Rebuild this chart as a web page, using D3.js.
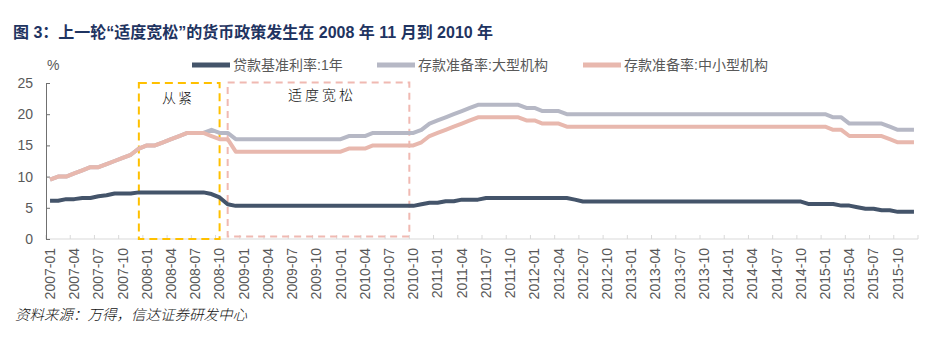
<!DOCTYPE html>
<html lang="zh">
<head>
  <meta charset="UTF-8">
  <title>上一轮“适度宽松”的货币政策</title>
  <script src="https://d3js.org/d3.v7.min.js"></script>
  <style>
    body { margin: 0; background: #fff; }
    svg { font-family: "Liberation Sans", Arial, "Noto Sans CJK SC", sans-serif; }
    .title { font-size: 16px; font-weight: bold; fill: #1f3461; }
    .legend-text { font-size: 14px; fill: #595959; }
    .tick text { font-size: 14px; fill: #595959; }
    .note { font-size: 14px; fill: #111; font-family: "Noto Sans CJK SC", sans-serif; font-weight: 300; }
    .source { font-size: 14.5px; fill: #111; font-style: italic; font-family: "Noto Sans CJK SC", sans-serif; font-weight: 300; }
  </style>
</head>
<body>
<svg id="chart"></svg>

<script>
  // years covered, monthly data
  var years = ["2007", "2008", "2009", "2010", "2011", "2012", "2013", "2014", "2015"];
  var monthNames = ["01", "02", "03", "04", "05", "06", "07", "08", "09", "10", "11", "12"];

  // 贷款基准利率:1年
  var loanRate = [
    6.12, 6.12, 6.39, 6.39, 6.57, 6.57, 6.84, 7.02, 7.29, 7.29, 7.29, 7.47,
    7.47, 7.47, 7.47, 7.47, 7.47, 7.47, 7.47, 7.47, 7.20, 6.66, 5.58, 5.31,
    5.31, 5.31, 5.31, 5.31, 5.31, 5.31, 5.31, 5.31, 5.31, 5.31, 5.31, 5.31,
    5.31, 5.31, 5.31, 5.31, 5.31, 5.31, 5.31, 5.31, 5.31, 5.31, 5.56, 5.81,
    5.81, 6.06, 6.06, 6.31, 6.31, 6.31, 6.56, 6.56, 6.56, 6.56, 6.56, 6.56,
    6.56, 6.56, 6.56, 6.56, 6.56, 6.31, 6.00, 6.00, 6.00, 6.00, 6.00, 6.00,
    6.00, 6.00, 6.00, 6.00, 6.00, 6.00, 6.00, 6.00, 6.00, 6.00, 6.00, 6.00,
    6.00, 6.00, 6.00, 6.00, 6.00, 6.00, 6.00, 6.00, 6.00, 6.00, 5.60, 5.60,
    5.60, 5.60, 5.35, 5.35, 5.10, 4.85, 4.85, 4.60, 4.60, 4.35, 4.35, 4.35
  ];

  // 存款准备率:大型机构
  var rrrLarge = [
    9.5, 10, 10, 10.5, 11, 11.5, 11.5, 12, 12.5, 13, 13.5, 14.5,
    15, 15, 15.5, 16, 16.5, 17, 17, 17, 17.5, 17, 17, 16,
    16, 16, 16, 16, 16, 16, 16, 16, 16, 16, 16, 16,
    16, 16.5, 16.5, 16.5, 17, 17, 17, 17, 17, 17, 17.5, 18.5,
    19, 19.5, 20, 20.5, 21, 21.5, 21.5, 21.5, 21.5, 21.5, 21.5, 21,
    21, 20.5, 20.5, 20.5, 20, 20, 20, 20, 20, 20, 20, 20,
    20, 20, 20, 20, 20, 20, 20, 20, 20, 20, 20, 20,
    20, 20, 20, 20, 20, 20, 20, 20, 20, 20, 20, 20,
    20, 19.5, 19.5, 18.5, 18.5, 18.5, 18.5, 18.5, 18, 17.5, 17.5, 17.5
  ];

  // 存款准备率:中小型机构
  var rrrSmall = [
    9.5, 10, 10, 10.5, 11, 11.5, 11.5, 12, 12.5, 13, 13.5, 14.5,
    15, 15, 15.5, 16, 16.5, 17, 17, 17, 16.5, 16, 16, 14,
    14, 14, 14, 14, 14, 14, 14, 14, 14, 14, 14, 14,
    14, 14.5, 14.5, 14.5, 15, 15, 15, 15, 15, 15, 15.5, 16.5,
    17, 17.5, 18, 18.5, 19, 19.5, 19.5, 19.5, 19.5, 19.5, 19.5, 19,
    19, 18.5, 18.5, 18.5, 18, 18, 18, 18, 18, 18, 18, 18,
    18, 18, 18, 18, 18, 18, 18, 18, 18, 18, 18, 18,
    18, 18, 18, 18, 18, 18, 18, 18, 18, 18, 18, 18,
    18, 17.5, 17.5, 16.5, 16.5, 16.5, 16.5, 16.5, 16, 15.5, 15.5, 15.5
  ];

  var seriesNames = ["贷款基准利率:1年", "存款准备率:大型机构", "存款准备率:中小型机构"];
  var seriesColors = ["#44546a", "#b6b8c5", "#e8b8ae"];
  var yTicks = [0, 5, 10, 15, 20, 25];
  var tickMonths = ["01", "04", "07", "10"];

  // 从紧 / 适度宽松 periods
  var periods = [
    { label: "从紧", from: "2007-12", to: "2008-10" },
    { label: "适度宽松", from: "2008-11", to: "2010-10" }
  ];

  var months = [];
  years.forEach(function(yr) {
    monthNames.forEach(function(m) { months.push(yr + "-" + m); });
  });

  var svgWidth = 937, svgHeight = 338;
  var plotLeft = 46, plotRight = 918, plotTop = 83, plotBottom = 239;

  var svg = d3.select("#chart")
          .attr("width", svgWidth)
          .attr("height", svgHeight);

  var x = d3.scaleBand().domain(months).range([plotLeft, plotRight]).padding(0);
  var y = d3.scaleLinear().domain([0, 25]).range([plotBottom, plotTop]);
  var bw = x.bandwidth();

  // title
  svg.append("text")
          .attr("class", "title")
          .attr("x", 13)
          .attr("y", 38)
          .text("图  3：上一轮“适度宽松”的货币政策发生在 2008 年 11 月到 2010 年");

  // x axis: light grey line with ticks between quarters
  var xAxis = svg.append("g").attr("transform", "translate(0," + plotBottom + ")");
  xAxis.append("line")
          .attr("x1", plotLeft).attr("x2", plotRight)
          .attr("stroke", "#d9d9d9").attr("stroke-width", 1);
  var qMonths = months.filter(function(m) { return tickMonths.indexOf(m.slice(5)) >= 0; });
  var tickX = qMonths.map(function(m) { return x(m); }).concat([plotRight]);
  xAxis.selectAll(".xtick")
          .data(tickX)
          .enter().append("line")
          .attr("x1", function(d) { return d; })
          .attr("x2", function(d) { return d; })
          .attr("y1", -4).attr("y2", 0)
          .attr("stroke", "#d9d9d9");
  xAxis.selectAll(".xlabel")
          .data(qMonths)
          .enter().append("text")
          .attr("transform", function(d) { return "translate(" + (x(d) + bw / 2) + ",9) rotate(-90)"; })
          .attr("dy", "0.35em")
          .attr("text-anchor", "end")
          .style("font-size", "14px")
          .style("fill", "#595959")
          .text(function(d) { return d; });

  // y axis
  svg.append("g")
          .attr("transform", "translate(" + plotLeft + ",0)")
          .call(d3.axisLeft(y).tickValues(yTicks).tickSizeInner(-4).tickSizeOuter(0).tickPadding(13))
          .call(function(g) {
            g.select(".domain").attr("stroke", "#707070");
            g.selectAll(".tick line").attr("stroke", "#707070");
            g.selectAll(".tick text").attr("font-family", null).attr("font-size", null);
          });

  svg.append("text")
          .attr("x", 47).attr("y", 70)
          .style("font-size", "14px").style("fill", "#595959")
          .text("%");

  // period boxes
  var boxStyle = [
    { stroke: "#ffc000", dash: "8,5", width: 2 },
    { stroke: "#f0b9b2", dash: "7,5", width: 2 }
  ];
  periods.forEach(function(p, i) {
    var x0 = x(p.from) + bw / 2;
    var x1 = i === 0 ? x(p.to) + bw / 2 : x(p.to);
    var yTop = i === 0 ? y(25) : y(25.1);
    var yBot = i === 0 ? y(0) : y(0.4);
    svg.append("rect")
            .attr("x", x0).attr("y", yTop)
            .attr("width", x1 - x0).attr("height", yBot - yTop)
            .attr("fill", "none")
            .attr("stroke", boxStyle[i].stroke)
            .attr("stroke-width", boxStyle[i].width)
            .attr("stroke-dasharray", boxStyle[i].dash);
  });
  svg.append("text").attr("class", "note")
          .attr("x", 162).attr("y", 103)
          .attr("letter-spacing", "2px")
          .text(periods[0].label);
  svg.append("text").attr("class", "note")
          .attr("x", 288).attr("y", 100)
          .attr("letter-spacing", "3px")
          .text(periods[1].label);

  // lines
  var allSeries = [loanRate, rrrLarge, rrrSmall];
  var line = d3.line()
          .x(function(d, i) { return x(months[i]) + bw / 2; })
          .y(function(d) { return y(d); });
  // draw grey first, then pink, then the navy loan rate
  [1, 2, 0].forEach(function(k) {
    svg.append("path")
            .datum(allSeries[k])
            .attr("fill", "none")
            .attr("stroke", seriesColors[k])
            .attr("stroke-width", 4)
            .attr("stroke-linejoin", "round")
            .attr("d", line);
  });

  // legend
  var legendX = [192, 377, 583];
  seriesNames.forEach(function(name, i) {
    var g = svg.append("g").attr("transform", "translate(" + legendX[i] + ",65)");
    g.append("line").attr("x1", 0).attr("x2", 38)
            .attr("stroke", seriesColors[i]).attr("stroke-width", 5);
    g.append("text").attr("class", "legend-text")
            .attr("x", 41).attr("y", 5)
            .text(name);
  });

  // source
  svg.append("text")
          .attr("class", "source")
          .attr("x", 15).attr("y", 320)
          .text("资料来源：万得，信达证券研发中心");
</script>
</body>
</html>
